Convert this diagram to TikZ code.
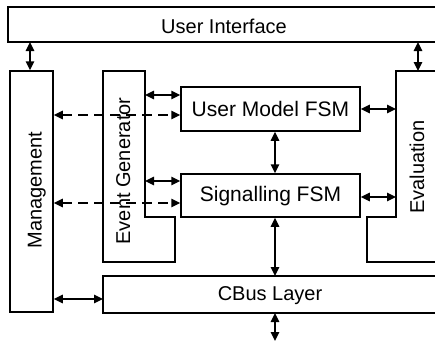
\documentclass[tikz,border=0pt]{standalone}
\usepackage{fontspec}
\setmainfont{Liberation Sans}
\usetikzlibrary{arrows.meta,calc}

\tikzset{
  frame/.style={line width=1.5pt, line join=miter},
  box/.style={draw, line width=1.5pt, inner sep=0pt},
  lbl/.style={inner sep=0pt, font=\fontsize{20}{23}\selectfont},
  biglbl/.style={inner sep=0pt, font=\fontsize{21}{24}\selectfont},
  vlbl/.style={lbl, rotate=90, anchor=base},
  dbl/.style={line width=1.5pt, {Triangle[length=9pt,width=8.5pt]}-{Triangle[length=9pt,width=8.5pt]}},
  dashdbl/.style={dbl, dash pattern=on 10pt off 6pt},
}

\begin{document}
\begin{tikzpicture}[x=1pt, y=-1pt]
  \path[use as bounding box] (0,0) rectangle (435,343);

  % User Interface (open to the right)
  \draw[frame] (436,7) -- (8,7) -- (8,42) -- (436,42);
  \coordinate (uib) at (8,42);
  \node[lbl, anchor=base] (ui) at (224,33) {User Interface};

  % Management
  \node[box, minimum width=43pt, minimum height=241pt] (mgmt) at (31.5,191.5) {};
  \node[vlbl] (mgmtlbl) at (41.5,190) {Management};

  % Event Generator (L-shaped)
  \draw[frame] (103,71) -- (145,71) -- (145,217) -- (175,217) -- (175,262) -- (103,262) -- cycle;
  \coordinate (egr) at (145,71);
  \node[vlbl] (eg) at (130,171) {Event Generator};

  % FSM boxes
  \node[box, minimum width=179pt, minimum height=44pt] (um) at (270.5,109) {};
  \node[biglbl] (umlbl) at (um.center) {User Model FSM};
  \node[box, minimum width=179pt, minimum height=43pt] (sig) at (270.5,195.5) {};
  \node[biglbl] (siglbl) at ([yshift=-1pt]sig.center) {Signalling FSM};

  % Evaluation (L-shaped, open to the right)
  \draw[frame] (436,71) -- (396,71) -- (396,217) -- (367,217) -- (367,262) -- (436,262);
  \coordinate (evl) at (396,71);
  \node[vlbl] (eval) at (424,167) {Evaluation};

  % CBus Layer (open to the right)
  \draw[frame] (436,276) -- (103,276) -- (103,313) -- (436,313);
  \coordinate (cbt) at (103,276);
  \coordinate (cbb) at (275,313);
  \coordinate (ext) at (275,341);
  \node[lbl] (cbus) at (270,296) {CBus Layer};

  % Connectors
  \draw[dbl] (uib -| 30,0) -- (mgmt.north -| 30,0);
  \draw[dbl] (uib -| 418,0) -- (evl -| 418,0);

  \draw[dbl] ([yshift=14pt]um.west -| egr) -- ([yshift=14pt]um.west);
  \draw[dashdbl] ([yshift=-6pt]um.west -| mgmt.east) -- ([yshift=-6pt]um.west);
  \draw[dbl] ([yshift=14.5pt]sig.west -| egr) -- ([yshift=14.5pt]sig.west);
  \draw[dashdbl] ([yshift=-7.5pt]sig.west -| mgmt.east) -- ([yshift=-7.5pt]sig.west);

  \draw[dbl] (um.east) -- (um.east -| evl);
  \draw[dbl] ([yshift=-1.5pt]sig.east) -- ([yshift=-1.5pt]sig.east -| evl);

  \draw[dbl] ([xshift=4.5pt]um.south) -- ([xshift=4.5pt]sig.north);
  \draw[dbl] ([xshift=4.5pt]sig.south) -- (cbt -| cbb);
  \draw[dbl] (cbb) -- (ext);

  \draw[dbl] (mgmt.east |- 0,299) -- (cbt |- 0,299);
\end{tikzpicture}
\end{document}
